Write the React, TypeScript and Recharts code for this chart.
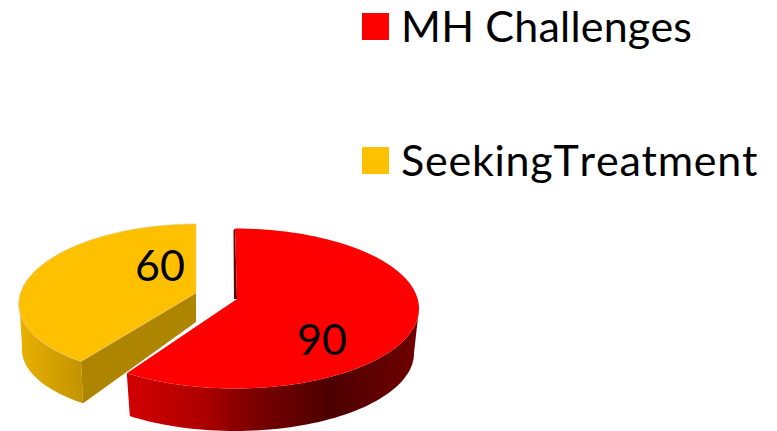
import { Legend, Pie, PieChart } from "recharts";

const labels = ["MH Challenges", "SeekingTreatment"];
const values = [90, 60];
const colors = ["#ff0000", "#ffc000"];

const pieRows = labels.map((name, i) => ({ name, value: values[i], fill: colors[i] }));

// each slice is pulled apart and seen in perspective, so top and bottom rims get their own ellipse
const sliceLooks = [
  {
    top: { cx: 235, cy: 308.5, rx: 184, ry: 80, skew: 0 },
    bottom: { cx: 235, cy: 353, rx: 179, ry: 78, skew: 0 },
    apex: [237, 299],
    apexBottom: [237, 326],
    wallFrom: 90,
    wallTo: 216,
    wallFill: "url(#redWall)",
    faceFill: "#5c0000",
    labelAt: [322, 338],
  },
  {
    top: { cx: 187, cy: 300, rx: 168, ry: 76, skew: 9 },
    bottom: { cx: 188, cy: 345, rx: 166, ry: 72, skew: 9 },
    apex: [196, 293],
    apexBottom: [196, 322],
    wallFrom: 216,
    wallTo: 270,
    wallFill: "url(#yellowWall)",
    faceFill: "#ad8500",
    labelAt: [160, 264],
  },
];

// legend text is a Calibri look-alike, so each row needs a little extra tracking
const legendTracking = [0.2, 0.74];

type Rim = { cx: number; cy: number; rx: number; ry: number; skew: number };

// deg is clockwise from 12 o'clock
function rimPoint(rim: Rim, deg: number) {
  const a = (deg * Math.PI) / 180;
  return [rim.cx + rim.rx * Math.sin(a) + rim.skew * Math.cos(a), rim.cy - rim.ry * Math.cos(a)];
}

function rimPoints(rim: Rim, from: number, to: number) {
  const pts = [];
  const steps = Math.ceil(Math.abs(to - from) / 2);
  for (let i = 0; i <= steps; i++) pts.push(rimPoint(rim, from + ((to - from) * i) / steps));
  return pts;
}

const toPath = (pts: number[][]) => "M" + pts.map((p) => `${p[0].toFixed(1)},${p[1].toFixed(1)}`).join("L") + "Z";

function Slice3D(props: any) {
  const look = sliceLooks[labels.indexOf(props.name)];
  const from = 90 - props.startAngle;
  const to = 90 - props.endAngle;
  const topRim = rimPoints(look.top, from, to);
  const wall = [
    ...rimPoints(look.top, look.wallFrom, look.wallTo),
    ...rimPoints(look.bottom, look.wallTo, look.wallFrom),
  ];
  // cut face that looks at the viewer
  const face =
    from === 0
      ? [topRim[0], look.apex, [look.apex[0] - 3, look.apex[1]], [topRim[0][0] - 1.5, topRim[0][1] + 2]]
      : [look.apex, topRim[0], rimPoint(look.bottom, from), look.apexBottom];
  return (
    <g>
      <path d={toPath(wall)} fill={look.wallFill} />
      <path d={toPath(face)} fill={look.faceFill} />
      <path
        d={toPath([look.apex, ...topRim])}
        fill={props.fill}
        stroke={from === 0 ? "none" : "#d8c48c"}
        strokeWidth={0.6}
      />
    </g>
  );
}

function SliceLabel(props: any) {
  const look = sliceLooks[props.index];
  return (
    <text
      x={look.labelAt[0]}
      y={look.labelAt[1]}
      textAnchor="middle"
      dominantBaseline="central"
      fontFamily="Lato"
      fontSize={43}
      fill="#000"
    >
      {props.value}
    </text>
  );
}

function LegendRows({ payload }: any) {
  return (
    <div>
      {(payload || []).map((item: any, i: number) => (
        <div key={item.value} style={{ position: "absolute", left: 362, top: 13 + i * 134, height: 27 }}>
          <span style={{ position: "absolute", left: 0, top: 0, width: 27, height: 27, background: item.color }} />
          <span
            style={{
              position: "absolute",
              left: 39,
              top: -14,
              fontFamily: "Lato",
              fontSize: 43,
              fontKerning: "none",
              letterSpacing: legendTracking[i],
              lineHeight: "54px",
              color: "#000",
              whiteSpace: "nowrap",
            }}
          >
            {item.value}
          </span>
        </div>
      ))}
    </div>
  );
}

export default function App() {
  return (
    <div style={{ position: "absolute", left: 0, top: 0, width: 777, height: 431, background: "#fff" }}>
      <PieChart width={777} height={431} margin={{ top: 0, right: 0, bottom: 0, left: 0 }}>
        <defs>
          <linearGradient id="redWall" gradientUnits="userSpaceOnUse" x1={128} y1={0} x2={416} y2={0}>
            <stop offset="0" stopColor="#d20000" />
            <stop offset="0.25" stopColor="#b00000" />
            <stop offset="0.43" stopColor="#7c0000" />
            <stop offset="0.7" stopColor="#4d0000" />
            <stop offset="1" stopColor="#6e0000" />
          </linearGradient>
          <linearGradient id="yellowWall" gradientUnits="userSpaceOnUse" x1={20} y1={0} x2={84} y2={0}>
            <stop offset="0" stopColor="#e8b000" />
            <stop offset="1" stopColor="#c29300" />
          </linearGradient>
        </defs>
        <Pie
          data={pieRows}
          dataKey="value"
          nameKey="name"
          cx={235}
          cy={310}
          outerRadius={184}
          startAngle={90}
          endAngle={-270}
          stroke="none"
          shape={Slice3D}
          label={SliceLabel}
          labelLine={false}
          isAnimationActive={false}
        />
        <Legend content={LegendRows} wrapperStyle={{ position: "absolute", left: 0, top: 0, width: 777, height: 0 }} />
      </PieChart>
    </div>
  );
}
